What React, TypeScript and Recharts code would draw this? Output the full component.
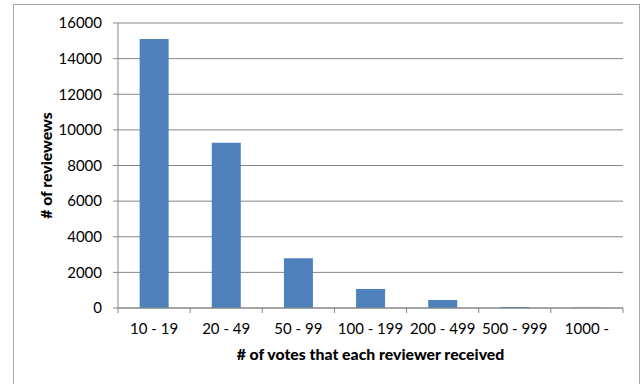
import { BarChart, Bar, XAxis, YAxis, CartesianGrid } from "recharts";

const categories = ["10 - 19", "20 - 49", "50 - 99", "100 - 199", "200 - 499", "500 - 999", "1000 -"];
const reviewers = [15100, 9280, 2800, 1070, 450, 60, 20];
const yTicks = [0, 2000, 4000, 6000, 8000, 10000, 12000, 14000, 16000];

const data = categories.map((c, i) => ({ range: c, count: reviewers[i] }));

const W = 625;
const H = 373;
const MARGIN = { top: 18, right: 16, bottom: 10, left: 0 };
const Y_W = 104;
const BAND = (W - MARGIN.left - MARGIN.right - Y_W) / categories.length;
const AXIS = "#868686";
const FONT = "Lato, 'Open Sans', sans-serif";

const XTick = (props: any) => {
    const { x, y, payload, index } = props;
    const top = y - 15;
    return (
        <g>
            <line x1={x - BAND / 2} x2={x - BAND / 2} y1={top} y2={top + 5} stroke={AXIS} />
            {index === categories.length - 1 && (
                <line x1={x + BAND / 2} x2={x + BAND / 2} y1={top} y2={top + 5} stroke={AXIS} />
            )}
            <text x={x} y={y} dy="0.71em" textAnchor="middle" fill="#000" fontSize={15} fontFamily={FONT}>
                {payload.value}
            </text>
        </g>
    );
};

export default function App() {
    return (
        <div
            style={{
                position: "absolute",
                top: 4,
                left: 13,
                width: W,
                height: 400,
                border: "1px solid #a6a6a6",
                background: "#fff",
            }}
        >
            <BarChart width={W} height={H} data={data} margin={MARGIN} barCategoryGap="30%">
                <CartesianGrid vertical={false} stroke={AXIS} />
                <XAxis
                    dataKey="range"
                    stroke={AXIS}
                    tickLine={false}
                    tickSize={5}
                    tickMargin={10}
                    height={60}
                    interval={0}
                    tick={<XTick />}
                    label={{
                        value: "# of votes that each reviewer received",
                        position: "insideBottom",
                        offset: 8,
                        fill: "#000",
                        fontSize: 15.8,
                        fontWeight: 900,
                        fontFamily: FONT,
                    }}
                />
                <YAxis
                    width={Y_W}
                    domain={[0, 16000]}
                    ticks={yTicks}
                    interval={0}
                    stroke={AXIS}
                    tickSize={5}
                    tickMargin={11}
                    tick={{ fill: "#000", fontSize: 15, fontFamily: FONT }}
                    label={{
                        value: "# of reviewews",
                        angle: -90,
                        position: "insideLeft",
                        offset: 32,
                        style: { textAnchor: "middle" },
                        fill: "#000",
                        fontSize: 15.8,
                        fontWeight: 900,
                        fontFamily: FONT,
                    }}
                />
                <Bar dataKey="count" fill="#4f81bd" isAnimationActive={false} />
            </BarChart>
        </div>
    );
}
